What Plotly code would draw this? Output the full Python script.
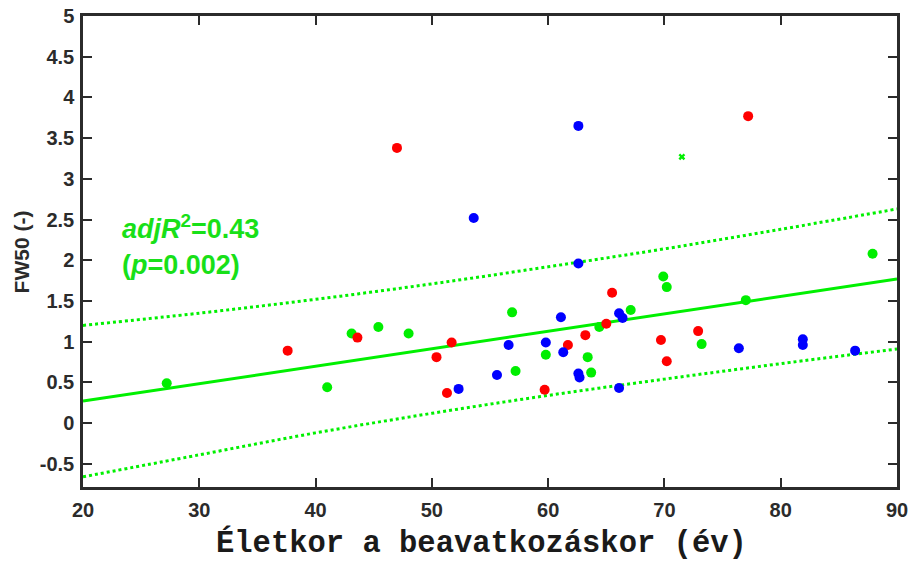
import plotly.graph_objects as go

# Age at intervention (years) and FW50 values, grouped by colour
red_age = [37.6, 43.6, 47.0, 50.4, 51.7, 51.3, 59.7, 61.7, 63.2, 65.0, 65.5, 69.7, 70.2, 72.9, 77.2]
red_fw50 = [0.89, 1.05, 3.38, 0.81, 0.99, 0.37, 0.41, 0.96, 1.08, 1.22, 1.60, 1.02, 0.76, 1.13, 3.77]

blue_age = [53.6, 62.6, 62.6, 56.6, 55.6, 52.3, 59.8, 61.1, 61.3, 62.6, 62.7, 66.1, 66.4, 66.1,
            76.4, 81.9, 81.9, 86.4]
blue_fw50 = [2.52, 3.65, 1.96, 0.96, 0.59, 0.42, 0.99, 1.30, 0.87, 0.61, 0.56, 1.35, 1.29, 0.43,
             0.92, 1.03, 0.96, 0.89]

green_age = [27.2, 41.0, 43.1, 45.4, 48.0, 56.9, 57.2, 59.8, 63.4, 63.7, 64.4, 67.1, 69.9, 70.2,
             77.0, 73.2, 87.9]
green_fw50 = [0.49, 0.44, 1.10, 1.18, 1.10, 1.36, 0.64, 0.84, 0.81, 0.62, 1.18, 1.39, 1.80, 1.67,
              1.51, 0.97, 2.08]

# excluded observation (cross marker)
outlier_age = [71.5]
outlier_fw50 = [3.27]

# regression line and prediction band
fit_age = [20, 90]
fit_fw50 = [0.27, 1.77]
band_age = [20, 30, 40, 50, 60, 70, 80, 90]
band_upper = [1.20, 1.35, 1.52, 1.71, 1.92, 2.14, 2.38, 2.63]
band_lower = [-0.66, -0.39, -0.12, 0.12, 0.34, 0.54, 0.73, 0.91]

x_ticks = [20, 30, 40, 50, 60, 70, 80, 90]
y_ticks = [-0.5, 0, 0.5, 1, 1.5, 2, 2.5, 3, 3.5, 4, 4.5, 5]
y_tick_text = ["-0.5", "0", "0.5", "1", "1.5", "2", "2.5", "3", "3.5", "4", "4.5", "5"]

GREEN = "#00f000"
AXIS = "#2b2b2b"

fig = go.Figure()

for yb in (band_upper, band_lower):
    fig.add_trace(go.Scatter(x=band_age, y=yb, mode="lines", line_shape="spline",
                             line=dict(color=GREEN, width=3, dash="dot"),
                             hoverinfo="skip", showlegend=False))
fig.add_trace(go.Scatter(x=fit_age, y=fit_fw50, mode="lines",
                         line=dict(color=GREEN, width=3), showlegend=False))

for xs, ys, col in ((green_age, green_fw50, "#00ee00"),
                    (red_age, red_fw50, "#ff0000"),
                    (blue_age, blue_fw50, "#0000ff")):
    fig.add_trace(go.Scatter(x=xs, y=ys, mode="markers",
                             marker=dict(color=col, size=10, line=dict(width=0)),
                             showlegend=False))

fig.add_trace(go.Scatter(x=outlier_age, y=outlier_fw50, mode="markers",
                         marker=dict(color="#00ee00", size=6, symbol="x", line=dict(width=0)),
                         showlegend=False))

tick_font = dict(family="Liberation Sans, Arial, sans-serif", size=20, color=AXIS, weight="bold")
axis_common = dict(ticks="inside", ticklen=9, tickwidth=2, tickcolor=AXIS, showline=True,
                   linewidth=2.5, linecolor=AXIS, mirror="ticks", showgrid=False,
                   zeroline=False, tickfont=tick_font, automargin=False)

fig.update_xaxes(range=[20, 90], tickvals=x_ticks, ticklabelstandoff=3, **axis_common)
fig.update_yaxes(range=[-0.785, 5], tickvals=y_ticks, ticktext=y_tick_text,
                 ticklabelstandoff=2, **axis_common)

# axis titles
fig.add_annotation(text="FW50 (-)", xref="paper", yref="paper", x=-0.075, y=0.5,
                   xanchor="center", yanchor="middle", textangle=-90, showarrow=False,
                   font=dict(family="Liberation Sans, Arial, sans-serif", size=21,
                             color=AXIS, weight="bold"))
fig.add_annotation(text="Életkor a beavatkozáskor (év)", xref="paper", yref="paper",
                   x=0.489, y=-0.119, xanchor="center", yanchor="middle", showarrow=False,
                   font=dict(family="Liberation Mono, Courier New, monospace", size=30.5,
                             color="#1a1a1a", weight="bold"))

# model statistics
ann_font = dict(family="Liberation Sans, Arial, sans-serif", size=27, color="#18e018", weight="bold")
fig.add_annotation(text="<i>adjR</i><sup>2</sup>=0.43", x=23.2, y=2.41, xanchor="left",
                   yanchor="middle", showarrow=False, font=ann_font)
fig.add_annotation(text="(<i>p</i>=0.002)", x=23.2, y=1.94, xanchor="left",
                   yanchor="middle", showarrow=False, font=ann_font)

fig.update_layout(width=911, height=563, margin=dict(l=83, r=14, t=16, b=76),
                  plot_bgcolor="white", paper_bgcolor="white")

fig.write_html("out.html")
